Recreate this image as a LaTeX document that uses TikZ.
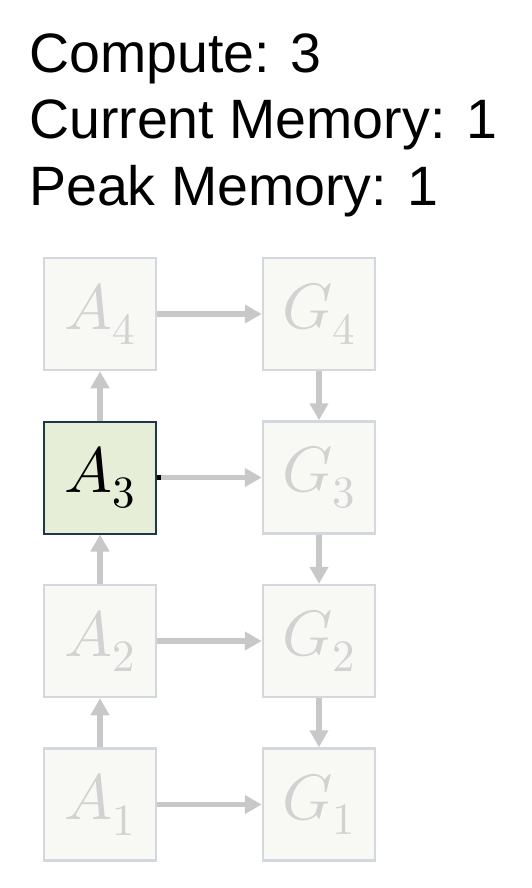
\documentclass[tikz,border=0pt]{standalone}
\usepackage{fontspec}
\usepackage{unicode-math}
\setmathfont{Latin Modern Math}
\setsansfont{Liberation Sans}
\usetikzlibrary{arrows.meta}
\definecolor{boxfill}{RGB}{248,249,245}
\definecolor{boxline}{RGB}{210,216,222}
\definecolor{fadetext}{RGB}{210,210,210}
\definecolor{arrgray}{RGB}{200,200,200}
\definecolor{activefill}{RGB}{230,238,216}
\definecolor{activeline}{RGB}{30,55,75}
\tikzset{
  cell/.style={draw=boxline, fill=boxfill, line width=2.5pt, minimum width=112pt, minimum height=112pt, inner sep=0pt, text=fadetext, font=\fontsize{64}{70}\selectfont},
  activecell/.style={cell, draw=activeline, fill=activefill, line width=2pt, text=black},
  arr/.style={draw=arrgray, line width=5.5pt, -{Triangle[length=17pt,width=18pt]}},
  info/.style={anchor=base west, inner sep=0pt, font=\sffamily\fontsize{55.5}{60}\selectfont}
}
\begin{document}
\begin{tikzpicture}[x=1pt,y=-1pt]
\useasboundingbox (0,0) rectangle (532,888);
\node[info] (t1) at (29,73) {Compute: 3};
\node[info] (t2) at (29,139) {Current Memory: 1};
\node[info] (t3) at (29,205) {Peak Memory: 1};

\node[cell] (A4) at (100,314) {$A_4$};
\node[activecell] (A3) at (100,477.5) {$A_3$};
\node[cell] (A2) at (100,641) {$A_2$};
\node[cell] (A1) at (100,804.5) {$A_1$};
\node[cell] (G4) at (319,314) {$G_4$};
\node[cell] (G3) at (319,477.5) {$G_3$};
\node[cell] (G2) at (319,641) {$G_2$};
\node[cell] (G1) at (319,804.5) {$G_1$};

\draw[arr] (A1) -- (A2);
\draw[arr] (A2) -- (A3);
\draw[arr] (A3) -- (A4);
\draw[arr] (G4) -- (G3);
\draw[arr] (G3) -- (G2);
\draw[arr] (G2) -- (G1);
\draw[arr] (A4) -- (G4);
\draw[arr] (A3) -- (G3);
\draw[arr] (A2) -- (G2);
\draw[arr] (A1) -- (G1);
\coordinate (stub) at ([xshift=4pt]A3.east);
\draw[black, line width=5.5pt] (A3.east) -- (stub);
\end{tikzpicture}
\end{document}
